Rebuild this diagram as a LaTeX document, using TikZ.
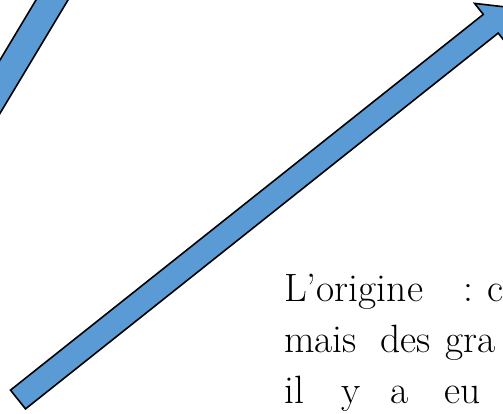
\documentclass[tikz,border=0pt]{standalone}
\usepackage{fontspec}
\definecolor{arrowblue}{HTML}{5B9BD5}
\begin{document}
\begin{tikzpicture}[x=1pt,y=-1pt,
  blockarrow/.style={draw=black, fill=arrowblue, line width=1.6pt, line join=miter},
  txt/.style={anchor=base west, inner sep=0pt, font=\fontsize{39.5}{47}\selectfont}]
\useasboundingbox (0,0) rectangle (503,413);
\clip (0,0) rectangle (503,413);
% small arrow shaft (top left)
\draw[blockarrow] (48,-20) -- (80,-20) -- (-16,140) -- (-48,140) -- cycle;
% big arrow
\draw[blockarrow] (10.5,390.1) -- (483.3,14.4) -- (474.6,3.4) -- (511.1,7.6)
  -- (506.9,44.1) -- (498.2,33.1) -- (25.5,408.9) -- cycle;
% text
\node[txt] (w1) at (284,301) {L'origine};
\node[txt] (w2) at (463,301) {:};
\node[txt] (w3) at (487,301) {c};
\node[txt] (w4) at (284,352) {mais};
\node[txt] (w5) at (380,352) {des};
\node[txt] (w6) at (445,352) {gra};
\node[txt] (w7) at (284,403) {il};
\node[txt] (w8) at (341,403) {y};
\node[txt] (w9) at (390,403) {a};
\node[txt] (w10) at (444,403) {eu};
\end{tikzpicture}
\end{document}
